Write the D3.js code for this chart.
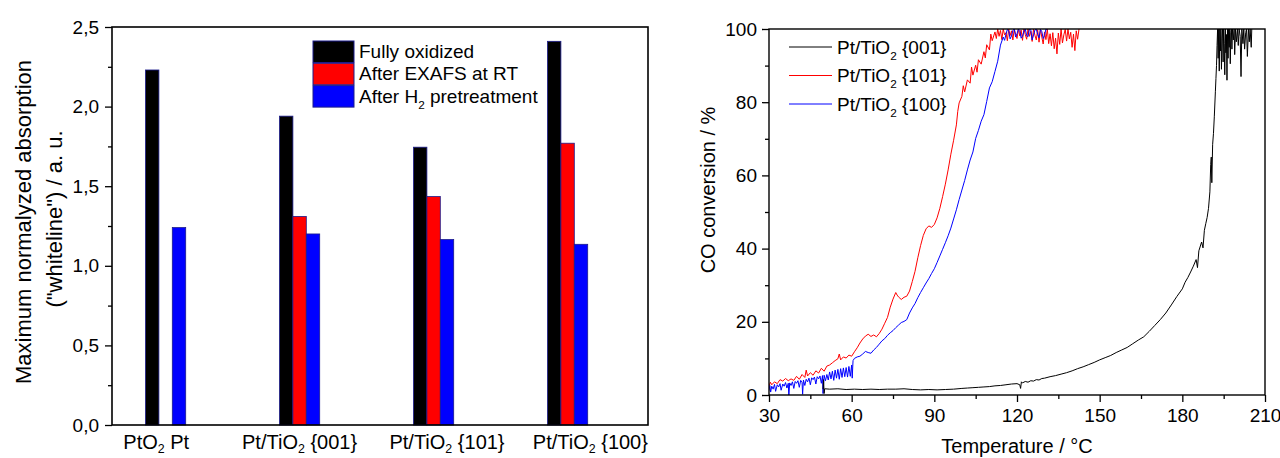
<!DOCTYPE html>
<html>
<head>
<meta charset="utf-8">
<script src="https://cdn.jsdelivr.net/npm/d3@7"></script>
<style>
  body { margin: 0; background: #fff; }
  text { font-family: "Liberation Sans", Arial, sans-serif; fill: #000; }
</style>
</head>
<body>
<div id="chart"></div>
<script>
// ---- left panel data: whiteline heights ----
const groups = [1, 2, 3, 4];
const groupLabels = [["PtO", "2", " Pt"], ["Pt/TiO", "2", " {001}"], ["Pt/TiO", "2", " {101}"], ["Pt/TiO", "2", " {100}"]];
const groupLabelPos = [0.93, 2.0, 3.1, 4.17];
const barNames = [["Fully oxidized"], ["After EXAFS at RT"], ["After H", "2", " pretreatment"]];
const fullyOxidized = [2.23, 1.94, 1.745, 2.41];
const afterExafs = [null, 1.31, 1.435, 1.77];
const afterH2 = [1.24, 1.20, 1.165, 1.135];
const barColors = ["#000000", "#ff0000", "#0000ff"];
const yTicksLeft = [0, 0.5, 1, 1.5, 2, 2.5];
const yMinorLeft = [0.25, 0.75, 1.25, 1.75, 2.25];

// ---- right panel data: CO conversion vs temperature ----
const lineNames = [["Pt/TiO", "2", " {001}"], ["Pt/TiO", "2", " {101}"], ["Pt/TiO", "2", " {100}"]];
const lineColors = ["#000000", "#ff0000", "#0000ff"];
const xTicksRight = [30, 60, 90, 120, 150, 180, 210];
const xMinorRight = [45, 75, 105, 135, 165, 195];
const yTicksRight = [0, 20, 40, 60, 80, 100];
const yMinorRight = [10, 30, 50, 70, 90];

const conv001 = [[49.6,1.6],[49.8,4.2],[50,0.4],[50.2,1.7],[52,1.6],[55,1.7],[58,1.5],[61,1.6],[64,1.5],[67,1.6],[70,1.5],[73,1.6],[76,1.6],[79,1.7],[82,1.5],[85,1.4],[88,1.5],[91,1.4],[94,1.5],[97,1.6],[100,1.8],[102,1.9],[104,2.0],[106,2.1],[108,2.2],[110,2.3],[112,2.5],[114,2.6],[116,2.8],[118,3.0],[120,3.1],[121,2.8],[121.3,1.8],[121.6,3.6],[122,3.3],[123,3.7],[124,3.5],[125,3.9],[126,3.8],[127,4.2],[128,4.1],[129,4.5],[130,4.6],[132,5.0],[134,5.3],[136,5.7],[138,6.1],[140,6.6],[142,7.2],[144,7.7],[146,8.3],[148,8.9],[150,9.6],[152,10.2],[154,10.8],[156,11.6],[158,12.3],[160,13.0],[162,14.0],[164,15.0],[166,15.9],[168,17.4],[170,19.0],[172,20.6],[174,22.4],[176,24.6],[178,26.9],[180,29.0],[181,30.8],[182,32.1],[183,33.6],[184,35.2],[185,37.0],[185.5,34.8],[186,39.4],[187,41.8],[187.5,40.2],[188,45.0],[188.5,46.8],[189,48.5],[189.5,51.0],[190,55.5],[190.3,63.0],[190.5,65.0],[190.7,58.0],[191,68.5],[191.3,71.5],[191.6,76.0],[192,83.0],[192.2,86.5],[192.4,90.0],[192.6,95.5],[192.8,100],[193,92.0],[193.2,100],[193.4,88.5],[193.6,100],[193.8,94.0],[194,100],[194.2,89.0],[194.4,97.5],[194.6,100],[194.8,91.0],[195,100],[195.2,96.0],[195.4,87.5],[195.6,100],[195.8,93.5],[196,98.5],[196.2,86.0],[196.4,100],[196.6,92.0],[196.8,100],[197,95.0],[197.2,100],[197.4,90.5],[197.6,99.0],[197.8,100],[198,94.5],[198.2,100],[198.5,97.0],[198.8,100],[199,93.0],[199.3,100],[199.6,96.5],[200,100],[200.3,95.5],[200.6,100],[201,98.0],[201.3,87.0],[201.6,100],[202,96.0],[202.3,100],[202.6,94.5],[203,99.0],[203.3,100],[203.6,92.5],[204,100],[204.3,96.5],[204.6,100],[205,95.0],[205.2,100]];

const conv101 = [[30,2.4],[30.5,3.5],[31,2.8],[32,3.6],[33,3.1],[34,4.2],[35,3.8],[36,4.5],[37,3.9],[38,4.4],[39,4.0],[40,5.1],[41,4.3],[42,5.6],[43,4.8],[43.5,6.8],[44,5.2],[45,6.1],[46,5.4],[47,6.6],[48,6.0],[49,7.3],[50,6.5],[51,7.9],[52,8.2],[53,8.8],[54,9.4],[55,9.9],[55.5,11.2],[56,9.6],[57,10.4],[58,10.1],[59,10.9],[60,10.6],[61,11.8],[62,12.9],[63,14.2],[64,15.3],[65,16.1],[66,16.6],[67,16.0],[68,16.4],[69,15.9],[70,16.8],[71,18.0],[72,19.6],[73,21.2],[74,24.0],[75,26.2],[76,28.0],[76.5,27.3],[77,26.8],[78,26.1],[79,26.7],[80,27.0],[81,28.4],[82,31.0],[83,33.8],[84,37.5],[85,40.8],[86,43.6],[87,45.4],[88,46.2],[89,45.8],[90,46.6],[91,48.4],[92,51.0],[93,54.2],[94,57.6],[95,61.5],[96,65.8],[97,69.6],[98,73.8],[98.5,77.5],[99,79.8],[100,81.6],[100.5,84.5],[101,82.8],[102,86.1],[103,85.2],[103.5,89.6],[104,87.4],[105,90.1],[105.5,88.2],[106,91.6],[107,90.4],[108,93.8],[108.5,92.1],[109,95.7],[110,94.3],[110.5,98.6],[111,96.8],[112,99.2],[112.5,97.4],[113,100],[113.5,98.0],[114,99.6],[114.5,97.1],[115,100],[115.5,98.4],[116,99.0],[116.5,96.8],[117,100],[117.5,98.2],[118,99.5],[118.5,97.0],[119,100],[119.5,98.6],[120,97.4],[120.5,100],[121,98.1],[121.5,99.7],[122,96.9],[122.5,100],[123,98.5],[123.5,97.2],[124,100],[124.5,98.0],[125,99.4],[125.5,96.6],[126,100],[126.5,98.3],[127,97.0],[127.5,99.8],[128,96.4],[128.5,100],[129,97.8],[129.5,95.9],[130,99.2],[130.5,97.1],[131,100],[131.5,96.0],[132,98.7],[132.5,95.4],[133,99.0],[133.5,94.6],[134,97.5],[134.5,93.2],[135,98.9],[135.5,95.8],[136,100],[136.5,96.2],[137,98.4],[137.5,99.9],[138,96.7],[138.5,100],[139,97.3],[139.5,99.1],[140,95.0],[140.5,98.6],[141,94.1],[141.5,99.5],[142,97.2],[142.5,100]];

const conv100 = [[30,1.2],[30.3,2.6],[30.6,0.8],[31,2.4],[31.5,1.6],[32,2.9],[32.4,1.0],[33,2.8],[33.5,2.2],[34,3.1],[34.4,1.3],[35,3.0],[35.5,2.4],[36,3.4],[36.5,1.9],[37,3.2],[37.2,-0.5],[37.5,3.3],[38,2.6],[38.5,3.6],[39,1.8],[39.5,3.7],[40,3.2],[40.5,3.9],[41,2.1],[41.5,4.0],[42,3.4],[42.2,0.2],[42.5,4.1],[43,2.6],[43.5,4.3],[44,3.6],[44.5,4.6],[45,2.8],[45.5,4.7],[46,4.2],[46.5,4.9],[47,3.0],[47.5,5.0],[48,4.4],[48.5,5.2],[49,3.2],[49.4,5.3],[49.6,0.4],[50,5.4],[50.5,3.9],[51,5.6],[51.5,4.1],[52,6.3],[52.5,4.4],[53,6.5],[53.5,4.0],[54,6.8],[54.5,4.6],[55,7.0],[55.5,4.3],[56,7.2],[56.5,4.8],[57,7.4],[57.5,5.0],[58,7.5],[58.5,4.9],[59,7.8],[59.5,5.1],[60,8.2],[60.2,4.6],[60.5,9.4],[61,10.0],[62,10.4],[63,10.6],[64,11.2],[65,11.9],[66,11.6],[67,11.4],[68,12.3],[69,13.0],[70,13.9],[71,14.8],[72,15.4],[73,16.3],[74,17.0],[75,17.6],[76,18.4],[77,19.1],[78,19.8],[79,20.1],[80,20.6],[81,22.4],[82,23.8],[83,25.0],[84,26.6],[85,28.0],[86,29.3],[87,30.6],[88,31.8],[89,33.2],[90,34.5],[91,36.2],[92,38.0],[93,39.8],[94,41.6],[95,43.5],[96,45.6],[97,48.1],[98,50.6],[99,53.4],[100,56.0],[101,58.6],[102,61.5],[103,64.2],[104,66.4],[105,70.1],[106,72.3],[107,74.8],[108,76.6],[109,80.2],[110,83.9],[111,85.6],[112,88.4],[113,91.2],[114,95.6],[115,97.8],[115.5,96.9],[116,98.6],[116.5,99.9],[117,99.4],[117.5,97.3],[118,98.1],[118.5,99.6],[119,100],[119.5,97.8],[120,98.7],[120.5,100],[121,99.6],[121.5,97.5],[122,98.0],[122.5,99.4],[123,100],[123.5,98.2],[124,97.9],[124.5,100],[125,99.8],[125.5,97.0],[126,98.4],[126.5,99.7],[127,100],[127.5,98.5],[128,97.6],[128.5,99.9],[129,99.3],[129.5,97.4],[130,98.2],[130.5,100],[131,99.8]];

const curves = [conv001, conv101, conv100];

const font = "Liberation Sans, Arial, sans-serif";
const svg = d3.select("#chart").append("svg")
    .attr("width", 1280)
    .attr("height", 458);

// text with a subscript part: [main, sub, rest]
function subText(g, parts, x, y, size, anchor, shift) {
  const s = shift || 0.32;
  const t = g.append("text")
      .attr("x", x).attr("y", y)
      .attr("font-size", size)
      .attr("text-anchor", anchor || "start");
  t.append("tspan").text(parts[0]);
  if (parts.length > 1) {
    t.append("tspan").attr("dy", size * s).attr("font-size", size * 0.62).text(parts[1]);
    t.append("tspan").attr("dy", -size * s).text(parts[2]);
  }
  return t;
}

function styleAxis(g, size) {
  g.attr("font-family", font).attr("font-size", size);
  g.select(".domain").remove();
  g.selectAll(".tick line").attr("stroke", "#000").attr("stroke-width", 1.3);
}

// ================= left panel =================
const xBar = d3.scaleLinear().domain([0.6, 4.6]).range([112, 648]);
const yBar = d3.scaleLinear().domain([0, 2.5]).range([425, 27]);
const barW = xBar(0.1) - xBar(0);
const commaFmt = d => d3.format(".1f")(d).replace(".", ",");
const left = svg.append("g");

[fullyOxidized, afterExafs, afterH2].forEach((vals, s) => {
  left.selectAll(null)
    .data(groups.map((g, i) => ({g: g, v: vals[i]})).filter(d => d.v != null))
    .enter()
    .append("rect")
      .attr("x", d => xBar(d.g - 0.15 + s * 0.1))
      .attr("y", d => yBar(d.v))
      .attr("width", barW)
      .attr("height", d => yBar(0) - yBar(d.v))
      .style("fill", barColors[s])
      .style("stroke", "#1c1c8c")
      .style("stroke-width", 0.8);
});

left.append("g")
    .attr("transform", "translate(112,0)")
    .call(d3.axisLeft(yBar).tickValues(yTicksLeft).tickFormat(commaFmt).tickSize(7).tickPadding(6))
    .call(g => styleAxis(g, 19));
left.append("g")
    .attr("transform", "translate(112,0)")
    .call(d3.axisLeft(yBar).tickValues(yMinorLeft).tickFormat("").tickSize(4))
    .call(g => styleAxis(g, 19));

left.append("rect")
    .attr("x", xBar.range()[0]).attr("y", yBar.range()[1])
    .attr("width", xBar.range()[1] - xBar.range()[0])
    .attr("height", yBar.range()[0] - yBar.range()[1])
    .style("fill", "none").style("stroke", "#000").style("stroke-width", 1.6);

groupLabels.forEach((p, i) => subText(left, p, xBar(groupLabelPos[i]), 449, 20, "middle", 0.22));

// y title (two lines)
left.append("text")
    .attr("transform", "translate(31,222) rotate(-90)")
    .attr("text-anchor", "middle").attr("font-size", 22)
    .text("Maximum normalyzed absorption");
left.append("text")
    .attr("transform", "translate(62,219) rotate(-90)")
    .attr("text-anchor", "middle").attr("font-size", 22)
    .text("(\"whiteline\") / a. u.");

// legend
barNames.forEach((p, i) => {
  const y0 = 41 + i * 22.3;
  left.append("rect")
      .attr("x", 313).attr("y", y0).attr("width", 41).attr("height", 21.5)
      .style("fill", barColors[i]).style("stroke", "#1c1c8c").style("stroke-width", 1);
  subText(left, p, 359, y0 + 17, 19);
});

// ================= right panel =================
const xT = d3.scaleLinear().domain([30, 210]).range([769, 1265]);
const yC = d3.scaleLinear().domain([0, 100]).range([395, 29]);
const right = svg.append("g");

right.append("clipPath").attr("id", "clip")
  .append("rect")
    .attr("x", xT.range()[0]).attr("y", yC.range()[1])
    .attr("width", xT.range()[1] - xT.range()[0])
    .attr("height", yC.range()[0] - yC.range()[1]);

const line = d3.line().x(d => xT(d[0])).y(d => yC(d[1]));
[1, 2, 0].forEach(k => {
  right.append("path")
      .datum(curves[k])
      .attr("clip-path", "url(#clip)")
      .attr("d", line)
      .style("fill", "none")
      .style("stroke", lineColors[k])
      .style("stroke-width", 1);
});

right.append("g")
    .attr("transform", "translate(0,395)")
    .call(d3.axisBottom(xT).tickValues(xTicksRight).tickSize(7).tickPadding(7))
    .call(g => styleAxis(g, 19));
right.append("g")
    .attr("transform", "translate(0,395)")
    .call(d3.axisBottom(xT).tickValues(xMinorRight).tickFormat("").tickSize(4))
    .call(g => styleAxis(g, 19));
right.append("g")
    .attr("transform", "translate(769,0)")
    .call(d3.axisLeft(yC).tickValues(yTicksRight).tickSize(7).tickPadding(5))
    .call(g => styleAxis(g, 19));
right.append("g")
    .attr("transform", "translate(769,0)")
    .call(d3.axisLeft(yC).tickValues(yMinorRight).tickFormat("").tickSize(4))
    .call(g => styleAxis(g, 19));

right.append("rect")
    .attr("x", xT.range()[0]).attr("y", yC.range()[1])
    .attr("width", xT.range()[1] - xT.range()[0])
    .attr("height", yC.range()[0] - yC.range()[1])
    .style("fill", "none").style("stroke", "#000").style("stroke-width", 1.4);

right.append("text")
    .attr("x", (xT.range()[0] + xT.range()[1]) / 2).attr("y", 453)
    .attr("text-anchor", "middle").attr("font-size", 20)
    .text("Temperature / °C");
right.append("text")
    .attr("transform", "translate(715,190) rotate(-90)")
    .attr("text-anchor", "middle").attr("font-size", 20)
    .text("CO conversion / %");

// legend
lineNames.forEach((p, i) => {
  const y0 = 47 + i * 28.5;
  right.append("line")
      .attr("x1", 789).attr("x2", 832).attr("y1", y0).attr("y2", y0)
      .style("stroke", lineColors[i]).style("stroke-width", 1);
  subText(right, p, 837, y0 + 6.5, 19);
});
</script>
</body>
</html>
